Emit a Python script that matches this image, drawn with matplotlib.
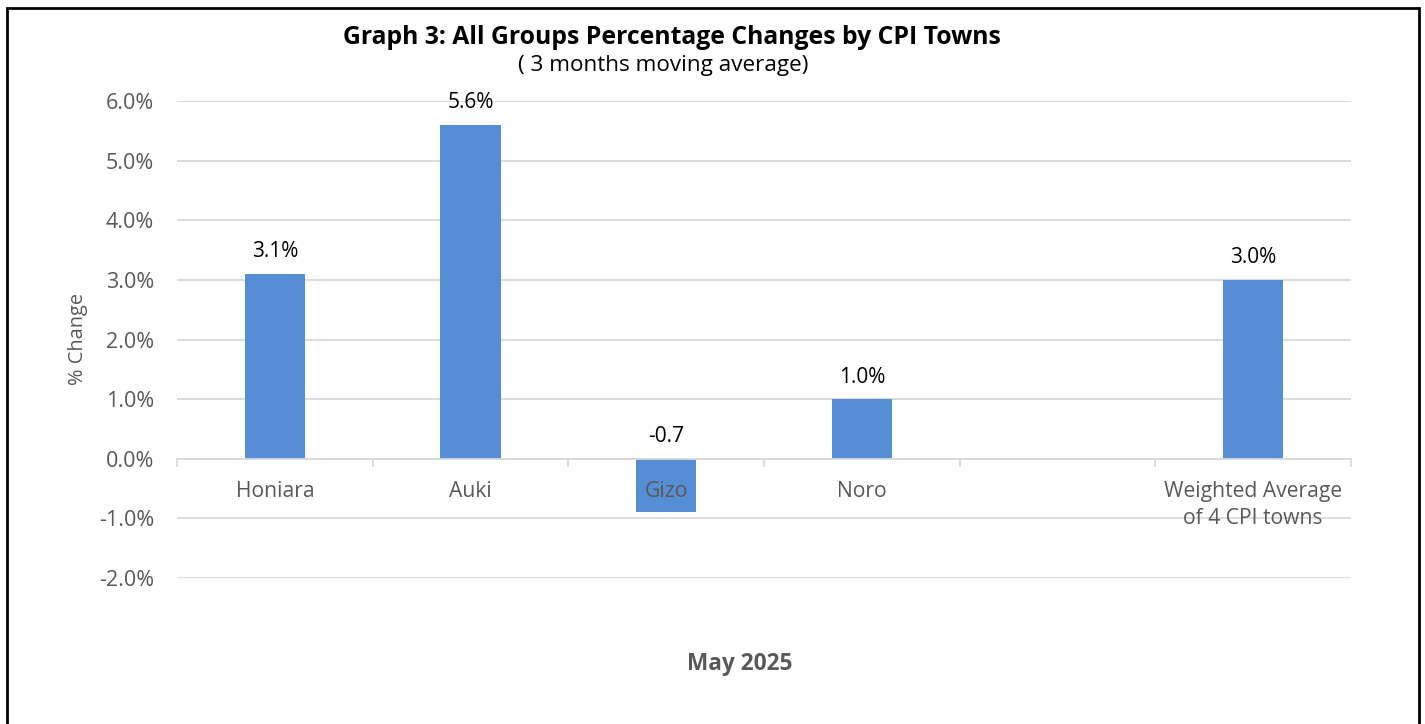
import matplotlib
matplotlib.use("Agg")
import matplotlib.pyplot as plt
from matplotlib.patches import Rectangle
from matplotlib.ticker import FixedLocator, FuncFormatter

plt.rcParams['font.family'] = ['Open Sans', 'DejaVu Sans']

categories = ["Honiara", "Auki", "Gizo", "Noro", "", "Weighted Average\nof 4 CPI towns"]
values = [3.1, 5.6, -0.9, 1.0, None, 3.0]
data_labels = ["3.1%", "5.6%", "-0.7", "1.0%", "", "3.0%"]
yticks = [-2.0, -1.0, 0.0, 1.0, 2.0, 3.0, 4.0, 5.0, 6.0]

title = "Graph 3: All Groups Percentage Changes by CPI Towns"
subtitle = "( 3 months moving average)"
xlabel = "May 2025"
ylabel = "% Change"

bar_color = "#558ed5"
grid_color = "#d9d9d9"
text_grey = "#595959"

fig = plt.figure(figsize=(14.25, 7.24), dpi=100)
ax = fig.add_axes([177/1425, 1-578/724, (1351-177)/1425, (578-101)/724])

xs = [i for i, v in enumerate(values) if v is not None]
hs = [v for v in values if v is not None]
ax.bar(xs, hs, width=0.31, color=bar_color, zorder=2)

ax.set_xlim(-0.5, len(categories) - 0.5)
ax.set_ylim(-2.0, 6.0)
ax.set_yticks(yticks)
ax.yaxis.set_major_formatter(FuncFormatter(lambda v, p: f"{v:.1f}%"))
ax.yaxis.grid(True, color=grid_color, linewidth=1.3)
ax.yaxis.set_zorder(1)
ax.xaxis.set_zorder(5)
ax.tick_params(axis='y', length=0, pad=16.5, labelsize=15.5, labelcolor=text_grey)

for s in ['top', 'right', 'left']:
    ax.spines[s].set_visible(False)
ax.spines['bottom'].set_position(('data', 0))
ax.spines['bottom'].set_color(grid_color)
ax.spines['bottom'].set_linewidth(1.3)
ax.spines['bottom'].set_zorder(4)

ax.set_xticks(range(len(categories)))
ax.set_xticklabels(categories, fontsize=15.2, color=text_grey, va='top', linespacing=1.38)
ax.tick_params(axis='x', which='major', length=0, pad=16)
ax.xaxis.set_minor_locator(FixedLocator([i - 0.5 for i in range(len(categories) + 1)]))
ax.tick_params(axis='x', which='minor', length=6, width=1.3, color=grid_color)

for i, v in enumerate(values):
    if v is None or not data_labels[i]:
        continue
    ax.annotate(data_labels[i], xy=(i, max(v, 0)), xytext=(0, 22), textcoords='offset pixels',
                ha='center', va='center', fontsize=15, color='#000000')

fig.text(78/1425, 1-339/724, ylabel, rotation=90, ha='center', va='center', fontsize=14.4, color=text_grey)
fig.text(672/1425, 1-37/724, title, ha='center', va='center', fontsize=17.8, fontweight='bold', color='#000000')
fig.text(663/1425, 1-65/724, subtitle, ha='center', va='center', fontsize=16.2, color='#000000')
fig.text(740/1425, 1-664/724, xlabel, ha='center', va='center', fontsize=16.3, fontweight='bold', color=text_grey)

fig.patches.append(Rectangle((7/1425, -0.02), (1419-7)/1425, 1.02 - 8/724, transform=fig.transFigure,
                             fill=False, edgecolor='#000000', linewidth=2))

fig.savefig("out.png", dpi=100, facecolor='white')
